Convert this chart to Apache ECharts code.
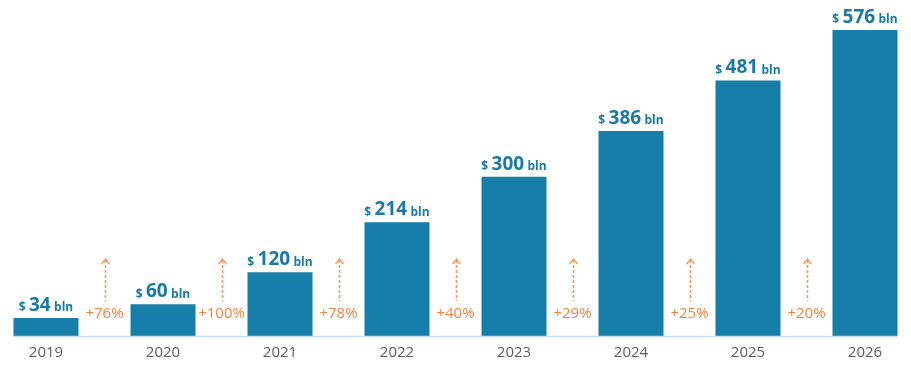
<!DOCTYPE html>
<html><head><meta charset="utf-8">
<script src="https://cdn.jsdelivr.net/npm/echarts@6/dist/echarts.min.js"></script>
<style>html,body{margin:0;padding:0;background:#fff;overflow:hidden}#c{width:911px;height:370px}</style>
</head><body><div id="c"></div>
<script>
const years = ['2019','2020','2021','2022','2023','2024','2025','2026'];
const values = [34, 60, 120, 214, 300, 386, 481, 576];
const growth = ['+76%','+100%','+78%','+40%','+29%','+25%','+20%'];

const BAR_W = 65;
const chart = echarts.init(document.getElementById('c'));
const growthData = growth.map((g, i) => [i + 0.5, g]);

chart.setOption({
  animation: false,
  grid: { left: -12.5, right: -12.5, top: 30, bottom: 34, outerBoundsMode: 'none', containLabel: false },
  xAxis: [
    { type: 'category', data: years, axisLine: { show: false }, axisTick: { show: false },
      axisLabel: { color: '#5e5e5e', fontSize: 15, fontFamily: 'Open Sans', margin: 9 } },
    { type: 'value', min: -0.5, max: 7.5, show: false }
  ],
  yAxis: { type: 'value', min: 0, max: 576, show: false },
  series: [
    { type: 'bar', data: values, barWidth: BAR_W, xAxisIndex: 0,
      itemStyle: { color: '#167ea8' },
      label: { show: true, position: 'top', distance: 3,
        formatter: p => '{s|$} {n|' + p.value + '} {u|bln}',
        rich: {
          s: { fontFamily: 'Open Sans', fontWeight: 'bold', fontSize: 12, color: '#1a7aa6', verticalAlign: 'bottom', padding: [0,0,1,0] },
          n: { fontFamily: 'Open Sans', fontWeight: 'bold', fontSize: 19, color: '#1a7aa6', verticalAlign: 'bottom' },
          u: { fontFamily: 'Open Sans', fontWeight: 'bold', fontSize: 12, color: '#1a7aa6', verticalAlign: 'bottom', padding: [0,0,1,0] }
        } } },
    { type: 'custom', xAxisIndex: 1, data: growthData,
      renderItem: (params, api) => {
        const p = api.coord([api.value(0), 0]);
        const x = Math.round(p[0]) + 0.5;
        const top = p[1] - 77, bot = p[1] - 35;
        const col = '#f5975e';
        return { type: 'group', children: [
          { type: 'line', shape: { x1: x, y1: top + 1, x2: x, y2: bot },
            style: { stroke: col, lineWidth: 1.6, lineDash: [3, 2] } },
          { type: 'polyline', shape: { points: [[x - 4, top + 5], [x, top], [x + 4, top + 5]] },
            style: { stroke: col, lineWidth: 1.4, fill: null } },
          { type: 'text', x: p[0], y: p[1] - 22,
            style: { text: growthData[params.dataIndex][1], fill: '#f4843f', fontSize: 15,
              fontFamily: 'Open Sans', align: 'center', verticalAlign: 'middle' } }
        ] };
      } }
  ]
});

const x0 = chart.convertToPixel({ xAxisIndex: 0 }, years[0]) - BAR_W / 2;
const x1 = chart.convertToPixel({ xAxisIndex: 0 }, years[years.length - 1]) + BAR_W / 2;
const y0 = chart.convertToPixel({ yAxisIndex: 0 }, 0);
chart.setOption({ graphic: [{ type: 'line', z: 100,
  shape: { x1: x0, y1: y0 + 0.5, x2: x1, y2: y0 + 0.5 },
  style: { stroke: '#c6def0', lineWidth: 1.5 } }] });
</script></body></html>
